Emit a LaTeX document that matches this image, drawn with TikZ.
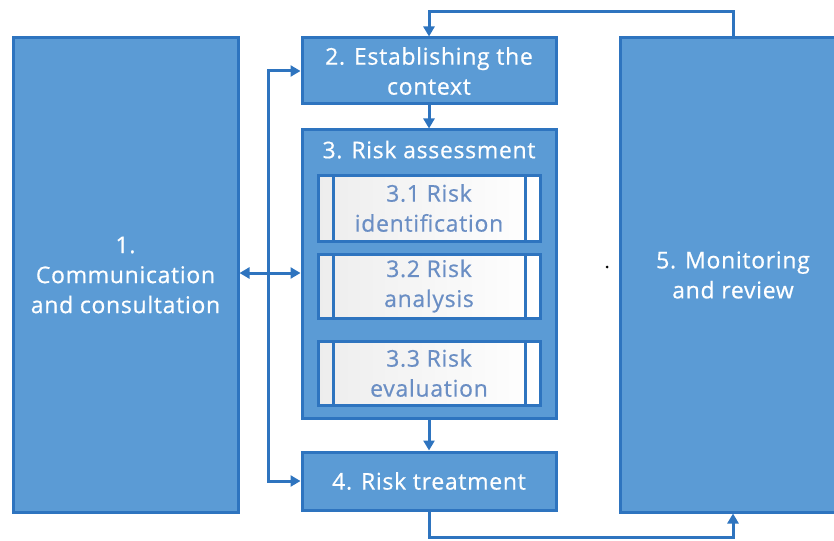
\documentclass[tikz,border=0pt]{standalone}
\usepackage{fontspec}
\setmainfont{Open Sans}
\newfontfamily\labelfont{Open Sans}[FakeBold=0.6,LetterSpace=3]
\usepackage{tikz}
\usetikzlibrary{arrows.meta}

\definecolor{boxfill}{HTML}{5B9BD5}
\definecolor{boxline}{HTML}{2E74BF}
\definecolor{subtext}{HTML}{6A8EC4}

\begin{document}
\begin{tikzpicture}[x=1pt,y=-1pt,
        stage/.style={draw=boxline, line width=3pt, fill=boxfill, text=white,
            align=center, inner sep=0pt, font=\labelfont\fontsize{23}{30}\selectfont},
        substage/.style={draw=boxline, line width=3pt, left color=black!7, right color=white,
            text=subtext, align=center, inner sep=0pt, minimum width=222pt,
            font=\labelfont\fontsize{23}{30}\selectfont,
            path picture={
                \draw[boxline, line width=3pt]
                    ([xshift=15pt]path picture bounding box.north west) -- ([xshift=15pt]path picture bounding box.south west)
                    ([xshift=-15pt]path picture bounding box.north east) -- ([xshift=-15pt]path picture bounding box.south east);
            }},
        flow/.style={draw=boxline, line width=3pt, -{Triangle[length=10pt,width=11pt]}}
    ]
    \useasboundingbox (0,0) rectangle (834,540);

    % left and right columns
    \node[stage, minimum width=225pt, minimum height=474pt] (comm) at (125.5,275) {1.\\Communication\\and consultation};
    \node[stage, minimum width=226pt, minimum height=474pt] (monitor) at (733,275) {5. Monitoring\\and review};

    % middle column
    \node[stage, minimum width=254pt, minimum height=66pt] (context) at (429,71) {2. Establishing the\\context};
    \node[stage, minimum width=254pt, minimum height=288pt, text depth=249pt] (assess) at (429,274) {3. Risk assessment};
    \node[substage, minimum height=66pt] (ident) at (429,208) {3.1 Risk\\identification};
    \node[substage, minimum height=64pt] (analysis) at (429,286) {3.2 Risk\\analysis};
    \node[substage, minimum height=64pt] (evaluation) at (429,373) {3.3 Risk\\evaluation};
    \node[stage, minimum width=254pt, minimum height=58pt] (treat) at (429,481) {4. Risk treatment};

    % connectors
    \coordinate (split) at (268,273);
    \coordinate (topturn) at (733,12);
    \coordinate (botturn) at (733,537);

    \draw[flow] (context) -- (assess);
    \draw[flow] (assess) -- (treat);
    \draw[flow] (monitor.north) -- (topturn) -| (context.north);
    \draw[flow] (treat.south) |- (botturn) -- (monitor.south);
    \draw[flow] (split) |- (context.west);
    \draw[flow] (split) |- (treat.west);
    \draw[flow, {Triangle[length=10pt,width=11pt]}-{Triangle[length=10pt,width=11pt]}] (comm.east |- split) -- (assess.west |- split);

    \fill (607,267) circle (1.5pt);
\end{tikzpicture}
\end{document}
